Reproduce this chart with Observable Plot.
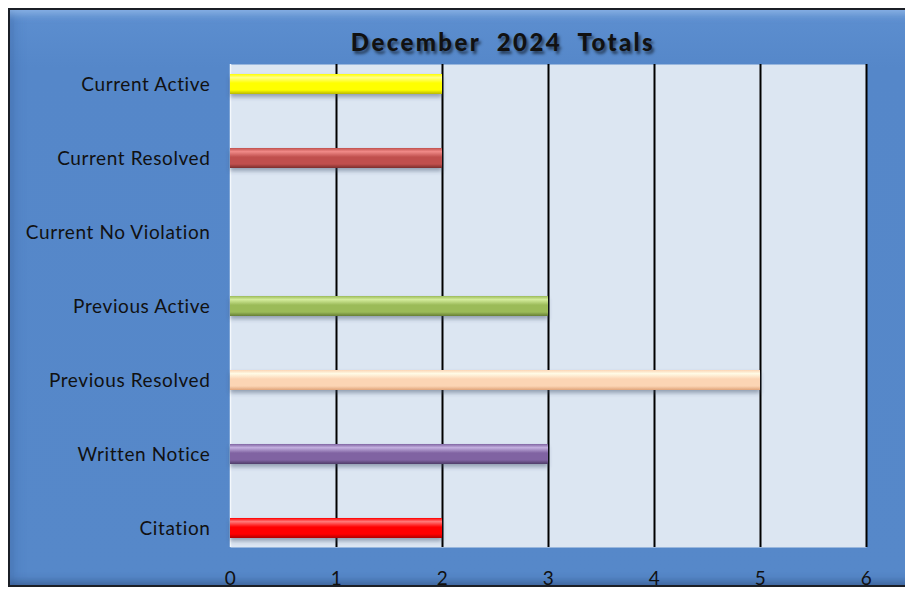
<!DOCTYPE html>
<html>
<head>
<meta charset="utf-8">
<script src="https://cdn.jsdelivr.net/npm/d3@7"></script>
<script src="https://cdn.jsdelivr.net/npm/@observablehq/plot@0.6"></script>
<style>
  html, body { margin: 0; padding: 0; background: #ffffff; }
  #wrap { position: relative; width: 905px; height: 591px; overflow: hidden; font-family: Lato, "Open Sans", sans-serif; }
  #panel {
    position: absolute; left: 8px; top: 8px; width: 905px; height: 579px;
    box-sizing: border-box;
    border: 2px solid #1b1f26;
    background: linear-gradient(180deg, #5d8fd0 0%, #5587c9 10%, #5688c9 100%);
    box-shadow: inset 0 10px 8px -6px rgba(160,195,240,0.7), inset 10px 0 14px -8px rgba(40,80,140,0.35), inset 0 -8px 8px -5px rgba(30,50,90,0.45);
  }
  #title {
    position: absolute; left: 0; width: 1006px; top: 27px; text-align: center;
    font-family: Lato, sans-serif; font-weight: 900; font-size: 24px; letter-spacing: 2.4px; word-spacing: 8px;
    color: #111; text-shadow: 2px 3px 3px rgba(0,0,0,0.55);
  }
  #chart { position: absolute; left: 0; top: 0; }
  #chart text { letter-spacing: 0.6px; }
</style>
</head>
<body>
<div id="wrap">
  <div id="panel"></div>
  <div id="title">December 2024 Totals</div>
  <div id="chart"></div>
</div>
<script>
const categories = ["Current Active", "Current Resolved", "Current No Violation", "Previous Active", "Previous Resolved", "Written Notice", "Citation"];
const values = [2, 2, 0, 3, 5, 3, 2];
const xTicks = [0, 1, 2, 3, 4, 5, 6];
const gridTicks = [1, 2, 3, 4, 5, 6];
// bar colours per category: [highlight, base, shade]
const barColors = [
  ["#ffff8a", "#ffff00", "#b8b800"],
  ["#f08a88", "#c0504d", "#7a2e2c"],
  ["#e8eef6", "#dce6f2", "#c4d0e0"],
  ["#d4ec9c", "#9bbb59", "#667e35"],
  ["#fffbe6", "#fcd5b4", "#e0a47a"],
  ["#c4b0e0", "#8064a2", "#4f3d68"],
  ["#ff7a7a", "#ff0000", "#b00000"]
];

const data = categories.map((c, i) => ({category: c, value: values[i], grad: `url(#bar-grad-${i})`}));

const chart = Plot.plot({
  width: 905,
  height: 591,
  marginTop: 64,
  marginBottom: 44,
  marginLeft: 230,
  marginRight: 39,
  style: {background: "transparent", fontFamily: "Lato, 'Open Sans', sans-serif", fontSize: "19px", color: "#111"},
  x: {domain: [0, 6], label: null},
  y: {domain: categories, label: null, paddingInner: 0.73, paddingOuter: 0.12, align: 0.5},
  color: {type: "identity"},
  marks: [
    Plot.frame({fill: "#dce6f2", stroke: null}),
    Plot.ruleX([0], {stroke: "#f4f8fc", strokeWidth: 1.5}),
    Plot.ruleX(gridTicks, {stroke: "#000", strokeWidth: 2}),
    Plot.barX(data, {x: "value", y: "category", fill: "grad", filter: d => d.value > 0}),
    Plot.axisX({ticks: xTicks, tickFormat: d => String(d), tickSize: 0, tickPadding: 24, fontSize: 19, label: null}),
    Plot.axisY({tickSize: 0, tickPadding: 20, fontSize: 19, label: null})
  ]
});

// gradients & shadow for bevelled bars
const svg = d3.select(chart);
const defs = svg.insert("defs", ":first-child");
barColors.forEach((c, i) => {
  const g = defs.append("linearGradient").attr("id", `bar-grad-${i}`).attr("x1", 0).attr("y1", 0).attr("x2", 0).attr("y2", 1);
  g.append("stop").attr("offset", "0%").attr("stop-color", c[1]);
  g.append("stop").attr("offset", "18%").attr("stop-color", c[0]);
  g.append("stop").attr("offset", "45%").attr("stop-color", c[1]);
  g.append("stop").attr("offset", "80%").attr("stop-color", c[1]);
  g.append("stop").attr("offset", "100%").attr("stop-color", c[2]);
});
const f = defs.append("filter").attr("id", "bar-shadow").attr("x", "-5%").attr("y", "-30%").attr("width", "110%").attr("height", "180%");
f.append("feDropShadow").attr("dx", 0).attr("dy", 3).attr("stdDeviation", 2).attr("flood-color", "#3a4a66").attr("flood-opacity", 0.45);
svg.selectAll("g[aria-label='bar'] rect").attr("filter", "url(#bar-shadow)");
svg.selectAll("text").attr("fill", "#111");

document.getElementById("chart").appendChild(chart);
</script>
</body>
</html>
